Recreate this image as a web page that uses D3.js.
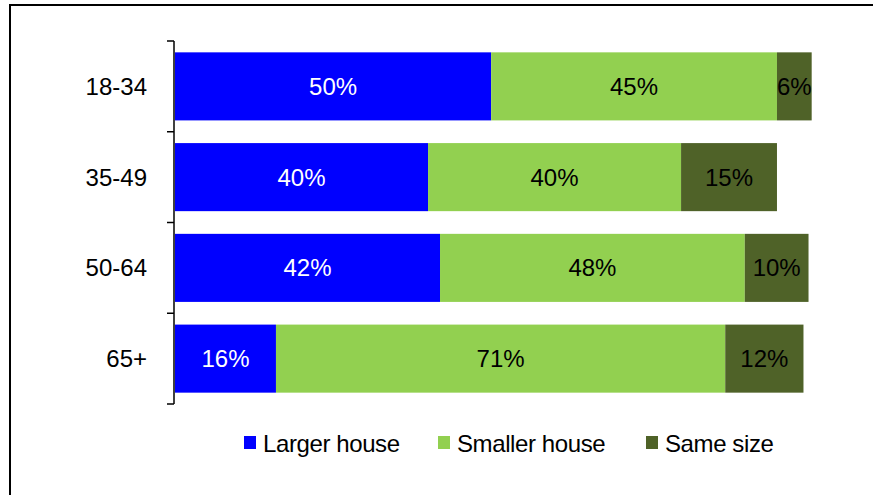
<!DOCTYPE html>
<html>
<head>
<meta charset="utf-8">
<script src="https://cdn.jsdelivr.net/npm/d3@7/dist/d3.min.js"></script>
<style>
  html, body { margin: 0; padding: 0; background: #fff; }
  svg { display: block; font-family: "Liberation Sans", Arial, sans-serif; }
</style>
</head>
<body>
<svg id="chart" width="873" height="495"></svg>
<script>
// ---- data ----
const categories = ["18-34", "35-49", "50-64", "65+"];
const seriesNames = ["Larger house", "Smaller house", "Same size"];
const larger  = [50.1, 40.1, 42.0, 16.0];
const smaller = [45.3, 40.1, 48.3, 71.2];
const same    = [5.5, 15.2, 10.1, 12.4];
const seriesColors = ["#0000FF", "#92D050", "#4F6228"];
const labelColors = ["#FFFFFF", "#000000", "#000000"];

const svg = d3.select("#chart");

// frame
svg.append("path")
  .attr("d", "M10,500 L10,5 L880,5")
  .attr("fill", "none").attr("stroke", "#000").attr("stroke-width", 2);

const rows = categories.map((c, i) => ({cat: c, "Larger house": larger[i], "Smaller house": smaller[i], "Same size": same[i]}));
const stack = d3.stack().keys(seriesNames)(rows);

const x = d3.scaleLinear().domain([0, 100]).range([175, 806]);
const y = d3.scaleBand().domain(categories).range([41, 404]).paddingInner(0.25).paddingOuter(0.125);

// bars
const g = svg.append("g");
stack.forEach((layer, si) => {
  g.selectAll(null).data(layer).enter().append("rect")
    .attr("x", d => x(d[0]))
    .attr("y", (d, i) => y(categories[i]))
    .attr("width", d => x(d[1]) - x(d[0]))
    .attr("height", y.bandwidth())
    .attr("fill", seriesColors[si]);
  g.selectAll(null).data(layer).enter().append("text")
    .attr("x", d => (x(d[0]) + x(d[1])) / 2)
    .attr("y", (d, i) => y(categories[i]) + y.bandwidth() / 2)
    .attr("dy", "0.35em")
    .attr("text-anchor", "middle")
    .attr("font-size", 24)
    .attr("fill", labelColors[si])
    .text(d => Math.round(d[1] - d[0]) + "%");
});

// category axis
const yAxisScale = d3.scaleBand().domain(categories).range([41, 404]);
const axisG = svg.append("g").attr("transform", "translate(174,0)");
axisG.append("line").attr("x1", 0).attr("x2", 0).attr("y1", 41).attr("y2", 404)
  .attr("stroke", "#000").attr("stroke-width", 1.5);
const boundaries = categories.map(c => yAxisScale(c)).concat([yAxisScale.range()[1]]);
axisG.selectAll(null).data(boundaries).enter().append("line")
  .attr("x1", -7).attr("x2", 0).attr("y1", d => d).attr("y2", d => d)
  .attr("stroke", "#000").attr("stroke-width", 1.5);
svg.selectAll(null).data(categories).enter().append("text")
  .attr("x", 147)
  .attr("y", d => yAxisScale(d) + yAxisScale.bandwidth() / 2)
  .attr("dy", "0.35em")
  .attr("text-anchor", "end")
  .attr("font-size", 24)
  .attr("fill", "#000")
  .text(d => d);

// legend
const legendX = [244, 438, 646];
const lg = svg.append("g");
seriesNames.forEach((name, i) => {
  lg.append("rect").attr("x", legendX[i]).attr("y", 436).attr("width", 12).attr("height", 13)
    .attr("fill", seriesColors[i]);
  lg.append("text").attr("x", legendX[i] + 19).attr("y", 452)
    .attr("font-size", 24).attr("fill", "#000").attr("letter-spacing", -0.4)
    .text(name);
});
</script>
</body>
</html>
